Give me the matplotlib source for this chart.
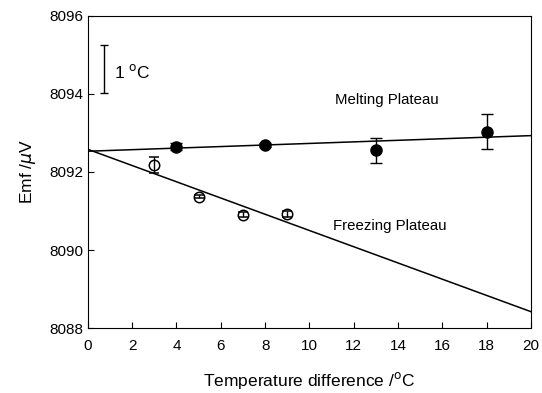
import numpy as np
import matplotlib.pyplot as plt

plt.rcParams['font.family'] = ['Liberation Sans', 'DejaVu Sans']

# melting plateau (filled)
melt_x = [4, 8, 13, 18]
melt_y = [8092.65, 8092.69, 8092.55, 8093.03]
melt_err = [0.08, 0.05, 0.31, 0.45]

# freezing plateau (open)
freeze_x = [3, 5, 7, 9]
freeze_y = [8092.18, 8091.37, 8090.91, 8090.92]
freeze_err = [0.21, 0.05, 0.07, 0.07]

# fitted lines
line_x = [0, 20]
melt_fit = [8092.53, 8092.93]
freeze_fit = [8092.58, 8088.42]

fig, ax = plt.subplots(figsize=(5.42, 3.93), dpi=100)
fig.subplots_adjust(left=0.162, right=0.98, top=0.96, bottom=0.165)

ax.plot(line_x, melt_fit, color='black', lw=1.1)
ax.plot(line_x, freeze_fit, color='black', lw=1.1)

ax.errorbar(melt_x, melt_y, yerr=melt_err, fmt='o', color='black', ms=8,
            capsize=4, elinewidth=1, capthick=1)
ax.errorbar(freeze_x, freeze_y, yerr=freeze_err, fmt='o', color='black',
            mfc='none', ms=7.5, mew=1.1, capsize=3.5, elinewidth=1, capthick=1)

# 1 degC scale bar
ax.errorbar([0.72], [8094.645], yerr=[0.615], color='black', capsize=3,
            elinewidth=1, capthick=1)
ax.text(1.2, 8094.56, '1 $^{\\rm o}$C', fontsize=12.5, va='center')

ax.text(13.5, 8093.85, 'Melting Plateau', fontsize=10.8, ha='center', va='center')
ax.text(13.6, 8090.62, 'Freezing Plateau', fontsize=10.8, ha='center', va='center')

ax.set_xlim(0, 20)
ax.set_ylim(8088, 8096)
ax.set_xticks(np.arange(0, 21, 2))
ax.set_yticks(np.arange(8088, 8097, 2))
ax.tick_params(direction='in', labelsize=11, length=4, top=False, right=False)
ax.tick_params(axis='x', pad=8)
ax.yaxis.get_major_formatter().set_useOffset(False)

ax.set_xlabel('Temperature difference /$^{\\rm o}$C', fontsize=12.5, labelpad=12)
ax.set_ylabel('Emf /$\\mu$V', fontsize=12.5, labelpad=8)

fig.savefig('out.png', dpi=100)
